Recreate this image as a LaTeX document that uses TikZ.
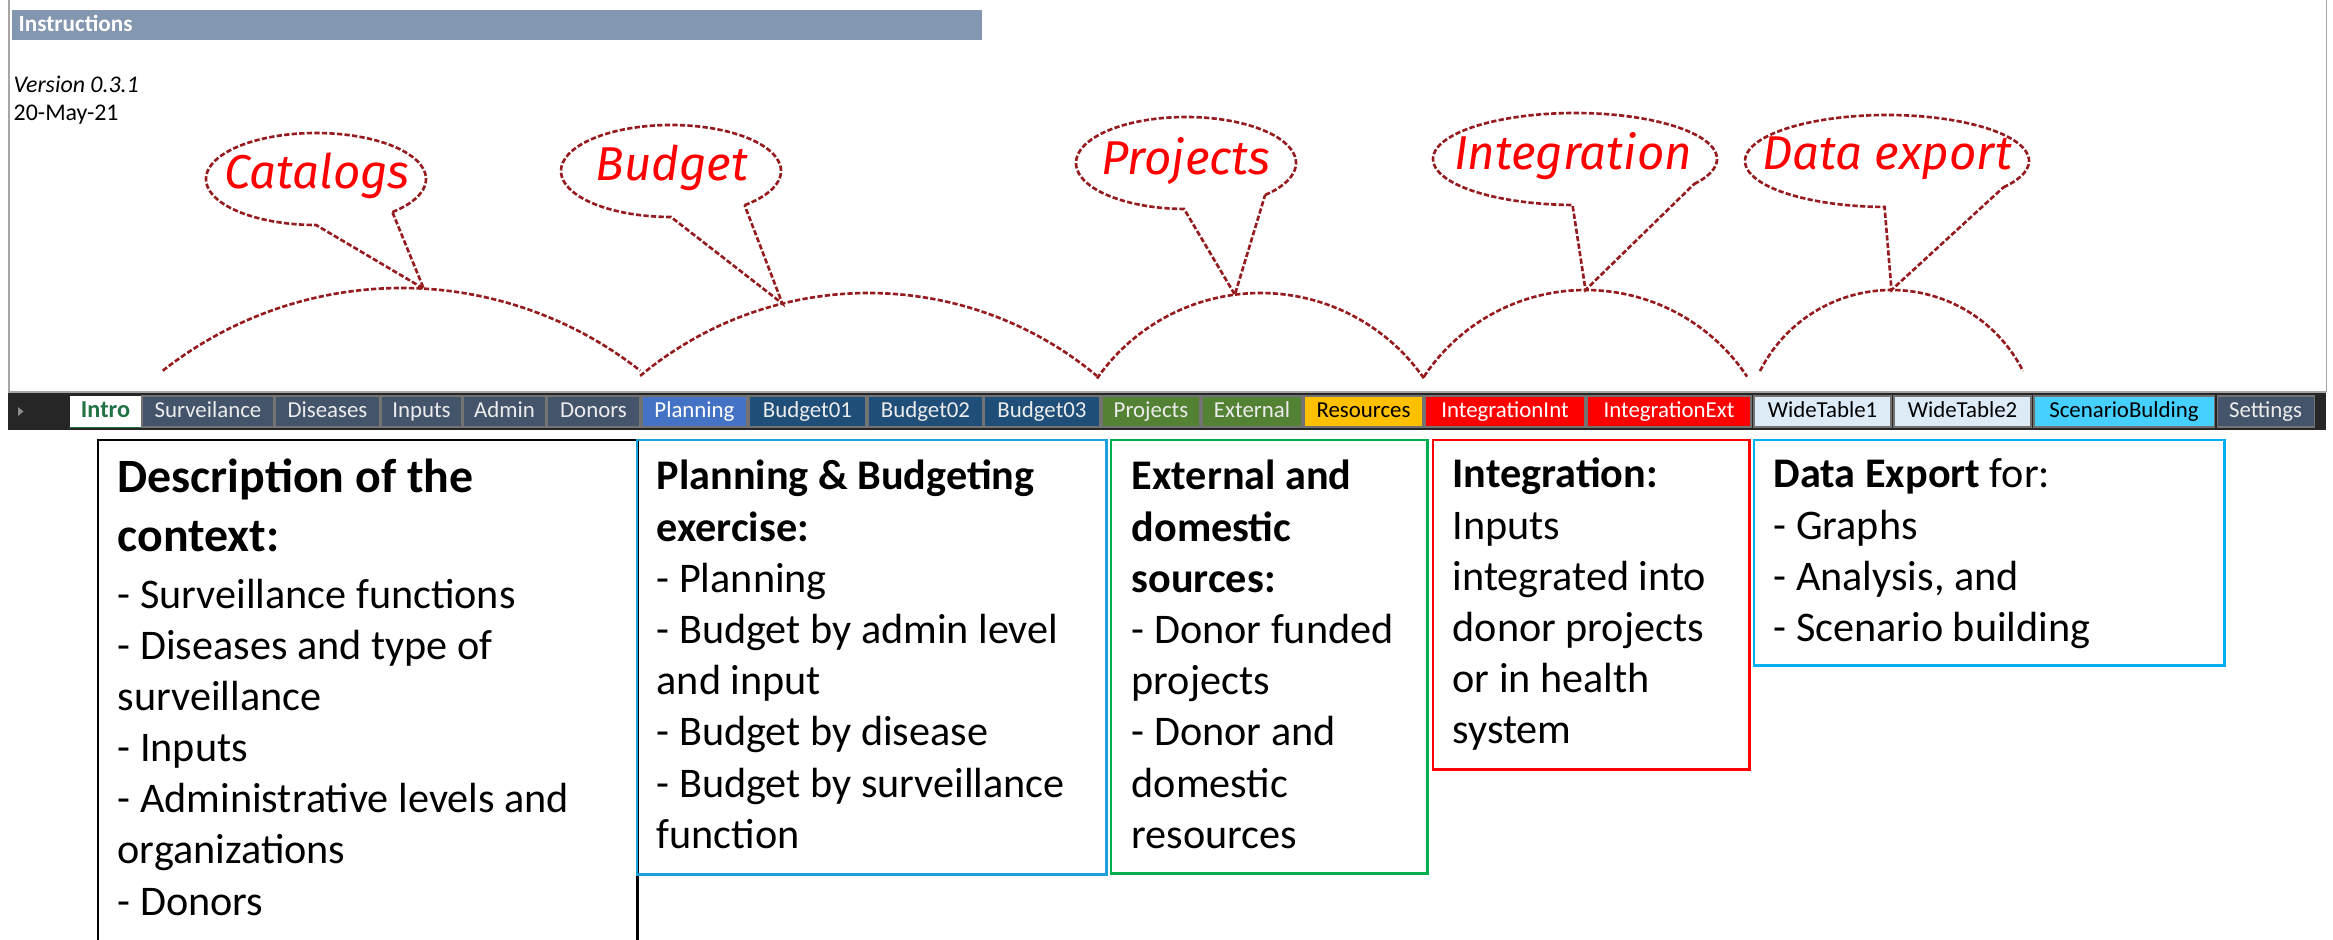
\documentclass[tikz,border=0pt]{standalone}
\usepackage{fontspec}
\setmainfont{Carlito}
\newfontfamily\handfont{Fira Sans}
\newcommand\textlines[1]{\begin{tabular}[t]{@{}l@{}}#1\end{tabular}}

\definecolor{hdrblue}{HTML}{8497B0}
\definecolor{slate}{HTML}{44546A}
\definecolor{tabbar}{HTML}{262626}
\definecolor{planblue}{HTML}{4472C4}
\definecolor{budblue}{HTML}{1F4E79}
\definecolor{projgreen}{HTML}{548235}
\definecolor{resyellow}{HTML}{FFC000}
\definecolor{intred}{HTML}{FF0000}
\definecolor{widelight}{HTML}{DDEBF7}
\definecolor{scencyan}{HTML}{45D0FF}
\definecolor{tablight}{HTML}{ECECEC}
\definecolor{introgreen}{HTML}{217346}
\definecolor{dashred}{HTML}{961B1E}
\definecolor{boxblue}{HTML}{1CA0DE}
\definecolor{boxgreen}{HTML}{00B050}
\definecolor{boxcyan}{HTML}{00B0F0}
\definecolor{sheetedge}{HTML}{A6A6A6}

\tikzset{
  sheettab/.style={draw=black!55, line width=0.3pt, minimum height=0.31cm,
    inner sep=0pt, text height=4.7pt, text depth=1.5pt,
    font=\fontsize{6.5}{7.5}\selectfont},
  dashline/.style={draw=dashred, line width=0.75pt, dash pattern=on 1.5pt off 0.65pt},
  bubbletext/.style={text=red, inner sep=0pt,
    font=\handfont\itshape\fontsize{13.5}{15}\selectfont},
  infobox/.style={line width=0.7pt, anchor=north west, inner sep=0pt},
  boxtext/.style={anchor=base west, inner sep=0pt,
    font=\fontsize{12}{14.55}\selectfont},
}

\begin{document}
\begin{tikzpicture}[x=0.01cm, y=-0.01cm]
\useasboundingbox (0,0) rectangle (2333,940);
\clip (0,0) rectangle (2333,940);

% sheet edges and title bar
\draw[sheetedge, line width=0.3pt] (9,0) -- (9,392);
\draw[sheetedge, line width=0.3pt] (2326,0) -- (2326,392);
\fill[hdrblue] (12,10) rectangle (982,40);
\node[anchor=base west, inner sep=0pt, text=white,
  font=\bfseries\fontsize{6.6}{8}\selectfont] (title) at (18,32) {Instructions};
\node[anchor=base west, inner sep=0pt, font=\itshape\fontsize{6.8}{8}\selectfont]
  (version) at (13,93) {Version 0.3.1};
\node[anchor=base west, inner sep=0pt, font=\fontsize{6.8}{8}\selectfont]
  (date) at (13,121) {20-May-21};

% sheet tab bar
\fill[tabbar] (8,392) rectangle (2326,430);
\draw[sheetedge, line width=0.4pt] (8,392) -- (2326,392);
\fill[black!45] (18,407) -- (23.5,411.5) -- (18,416) -- cycle;
\node[sheettab, draw=none, fill=white, text=introgreen, minimum width=0.71cm,
  font=\bfseries\fontsize{6.9}{8}\selectfont] (tab-Intro) at (105.5,411.5) {Intro};
\draw[introgreen, line width=0.5pt] (tab-Intro.south west) -- (tab-Intro.south east);
\foreach \nm/\xa/\xb/\bg/\fg in {
  Surveilance/142/274/slate/tablight, Diseases/275/380/slate/tablight,
  Inputs/381/462/slate/tablight, Admin/463/546/slate/tablight,
  Donors/547/640/slate/tablight, Planning/642/747/planblue/white,
  Budget01/749/866/budblue/tablight, Budget02/868/983/budblue/tablight,
  Budget03/984/1100/budblue/tablight, Projects/1102/1200/projgreen/tablight,
  External/1202/1302/projgreen/tablight, Resources/1304/1423/resyellow/black,
  IntegrationInt/1425/1585/intred/white, IntegrationExt/1587/1751/intred/white,
  WideTable1/1754/1891/widelight/black, WideTable2/1894/2031/widelight/black,
  ScenarioBulding/2034/2214/scencyan/black, Settings/2217/2314/slate/tablight}
  \node[sheettab, fill=\bg, text=\fg, minimum width={(\xb-\xa)*0.01cm}]
    (tab-\nm) at ({(\xa+\xb)/2},411.5) {\nm};

% dashed arcs spanning each group of sheets
\draw[dashline] plot[domain=128.2:51.8, samples=60, smooth]
  ({401.5+386*cos(\x)},{674-386*sin(\x)});
\draw[dashline] plot[domain=129.9:50.1, samples=60, smooth]
  ({868.5+356*cos(\x)},{649-356*sin(\x)});
\draw[dashline] plot[domain=145.2:34.8, samples=60, smooth]
  ({1260.5+199.1*cos(\x)},{492.1-199.1*sin(\x)});
\draw[dashline] plot[domain=146.4:33.6, samples=60, smooth]
  ({1585.5+194*cos(\x)},{484-194*sin(\x)});
\draw[dashline] plot[domain=153.3:26.7, samples=60, smooth]
  ({1891.5+147.2*cos(\x)},{437.2-147.2*sin(\x)});

\coordinate (tipA) at ({401.5+386*cos(86.7)},{674-386*sin(86.7)});
\coordinate (tipB) at ({868.5+356*cos(104)},{649-356*sin(104)});
\coordinate (tipC) at ({1260.5+199.1*cos(97.4)},{492.1-199.1*sin(97.4)});
\coordinate (tipD) at (1585.5,290);
\coordinate (tipE) at (1891.5,290);

% callout bubbles: dashed ellipse left open where the pointer joins it
\draw[dashline] plot[domain=-46:270, samples=90, smooth]
  ({316+110*cos(\x)},{179-46*sin(\x)}) -- (tipA) -- ({316+110*cos(-46)},{179-46*sin(-46)});
\draw[dashline] plot[domain=-48:270, samples=90, smooth]
  ({671+110*cos(\x)},{171-46*sin(\x)}) -- (tipB) -- ({671+110*cos(-48)},{171-46*sin(-48)});
\draw[dashline] plot[domain=-44:269, samples=90, smooth]
  ({1186+110*cos(\x)},{163-46*sin(\x)}) -- (tipC) -- ({1186+110*cos(-44)},{163-46*sin(-44)});
\draw[dashline] plot[domain=-33:269, samples=90, smooth]
  ({1575+142*cos(\x)},{159-46*sin(\x)}) -- (tipD) -- ({1575+142*cos(-33)},{159-46*sin(-33)});
\draw[dashline] plot[domain=-35:269, samples=90, smooth]
  ({1887+142*cos(\x)},{161-46*sin(\x)}) -- (tipE) -- ({1887+142*cos(-35)},{161-46*sin(-35)});

\node[bubbletext] (catalogs) at (317,176) {Catalogs};
\node[bubbletext] (budget) at (672,168) {Budget};
\node[bubbletext] (projects) at (1186,161) {Projects};
\node[bubbletext] (integration) at (1573,156) {Integration};
\node[bubbletext] (export) at (1887,158) {Data export};

% description boxes
\node[infobox, draw=black, minimum width=5.39cm, minimum height=5.4cm] (box-context) at (97,439) {};
\node[infobox, draw=boxblue, minimum width=4.69cm, minimum height=4.34cm] (box-budget) at (636,439) {};
\node[infobox, draw=boxgreen, minimum width=3.16cm, minimum height=4.33cm] (box-sources) at (1110,439) {};
\node[infobox, draw=intred, minimum width=3.16cm, minimum height=3.29cm] (box-integration) at (1432,439) {};
\node[infobox, draw=boxcyan, minimum width=4.70cm, minimum height=2.25cm] (box-export) at (1753,439) {};

\node[boxtext, font=\bfseries\fontsize{13.6}{16.5}\selectfont] (txt-context-head) at (117,493)
  {\textlines{Description of the\\context:}};
\node[boxtext] (txt-context) at (117,608)
  {\textlines{- Surveillance functions\\- Diseases and type of\\surveillance\\- Inputs\\
   - Administrative levels and\\organizations\\- Donors}};
\node[boxtext] (txt-budget) at (656,490)
  {\textlines{\textbf{Planning \& Budgeting}\\\textbf{exercise:}\\- Planning\\- Budget by admin level\\
   and input\\- Budget by disease\\- Budget by surveillance\\function}};
\node[boxtext] (txt-sources) at (1131,490)
  {\textlines{\textbf{External and}\\\textbf{domestic}\\\textbf{sources:}\\- Donor funded\\projects\\
   - Donor and\\domestic\\resources}};
\node[boxtext] (txt-integration) at (1452,488)
  {\textlines{\textbf{Integration:}\\Inputs\\integrated into\\donor projects\\or in health\\system}};
\node[boxtext] (txt-export) at (1773,488)
  {\textlines{\textbf{Data Export} for:\\- Graphs\\- Analysis, and\\- Scenario building}};
\end{tikzpicture}
\end{document}
